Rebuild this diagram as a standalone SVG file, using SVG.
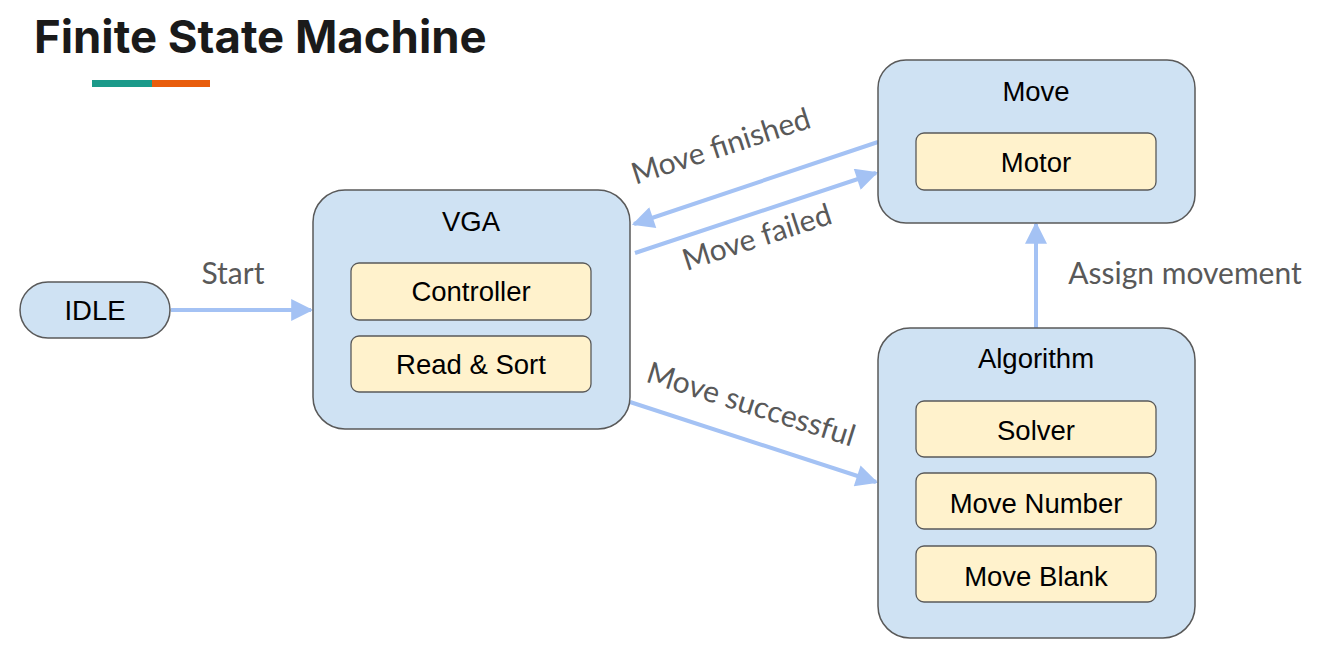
<svg xmlns="http://www.w3.org/2000/svg" width="1336" height="666" viewBox="0 0 1336 666">
<style>
.outer{fill:#cfe2f3;stroke:#595959;stroke-width:1.5}
.inner{fill:#fff2cc;stroke:#595959;stroke-width:1.3}
.nt{font-family:"Liberation Sans",Arial,sans-serif;font-size:27.5px;fill:#000;text-anchor:middle}
.lbl{font-family:Lato,"Open Sans",sans-serif;font-size:30px;fill:#595959;text-anchor:middle}
.edge{stroke:#a4c2f4;stroke-width:4;fill:none;marker-end:url(#ah)}
</style>
<defs>
<marker id="ah" viewBox="0 0 10 10" refX="9" refY="5" markerWidth="7.5" markerHeight="5.5" orient="auto" markerUnits="strokeWidth">
<path d="M0,0 L10,5 L0,10 z" fill="#a4c2f4"/>
</marker>
</defs>
<rect width="1336" height="666" fill="#fff"/>
<g id="title">
<text x="34" y="53" font-family="Inter,'Open Sans',sans-serif" font-weight="700" font-size="45.5" fill="#1a1a1a">Finite State Machine</text>
<rect x="92" y="80" width="60" height="7" fill="#1b9a8a"/>
<rect x="152" y="80" width="58" height="7" fill="#e85d0c"/>
</g>
<g id="connectors">
<line class="edge" x1="171" y1="310" x2="311" y2="310"/>
<line class="edge" x1="878" y1="142" x2="634" y2="224"/>
<line class="edge" x1="635" y1="253" x2="876" y2="173"/>
<line class="edge" x1="630" y1="402" x2="876" y2="482"/>
<line class="edge" x1="1036" y1="328" x2="1036" y2="224"/>
<text class="lbl" x="233" y="284">Start</text>
<text class="lbl" transform="translate(724,156) rotate(-18)">Move finished</text>
<text class="lbl" transform="translate(760,247) rotate(-18)">Move failed</text>
<text class="lbl" transform="translate(748,414) rotate(17.5)">Move successful</text>
<text class="lbl" x="1185" y="284">Assign movement</text>
</g>
<g id="idle">
<rect class="outer" x="20" y="282" width="150" height="56" rx="28"/>
<text class="nt" x="95" y="320">IDLE</text>
</g>
<g id="vga">
<rect class="outer" x="313" y="190" width="317" height="239" rx="32"/>
<text class="nt" x="471" y="231">VGA</text>
<g id="controller">
<rect class="inner" x="351" y="263" width="240" height="57" rx="8"/>
<text class="nt" x="471" y="301">Controller</text>
</g>
<g id="readsort">
<rect class="inner" x="351" y="336" width="240" height="56" rx="8"/>
<text class="nt" x="471" y="374">Read &amp; Sort</text>
</g>
</g>
<g id="move">
<rect class="outer" x="878" y="60" width="317" height="163" rx="28"/>
<text class="nt" x="1036" y="101">Move</text>
<g id="motor">
<rect class="inner" x="916" y="133" width="240" height="57" rx="8"/>
<text class="nt" x="1036" y="172">Motor</text>
</g>
</g>
<g id="algorithm">
<rect class="outer" x="878" y="328" width="317" height="310" rx="32"/>
<text class="nt" x="1036" y="368">Algorithm</text>
<g id="solver">
<rect class="inner" x="916" y="401" width="240" height="56" rx="8"/>
<text class="nt" x="1036" y="440">Solver</text>
</g>
<g id="movenumber">
<rect class="inner" x="916" y="473" width="240" height="56" rx="8"/>
<text class="nt" x="1036" y="513">Move Number</text>
</g>
<g id="moveblank">
<rect class="inner" x="916" y="546" width="240" height="56" rx="8"/>
<text class="nt" x="1036" y="586">Move Blank</text>
</g>
</g>
</svg>
